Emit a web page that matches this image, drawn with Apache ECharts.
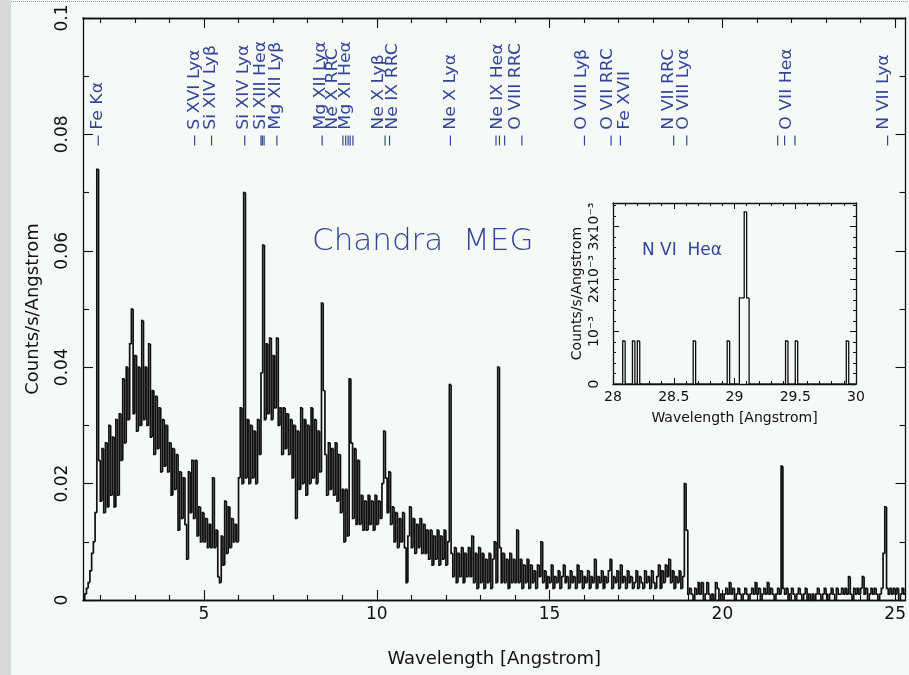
<!DOCTYPE html>
<html>
<head>
<meta charset="utf-8">
<script src="https://cdn.jsdelivr.net/npm/echarts@6/dist/echarts.min.js"></script>
<style>
  html, body { margin: 0; padding: 0; background: #f5faf6; }
  #chart { width: 909px; height: 675px; }
</style>
</head>
<body>
<div id="chart"></div>
<script>
// MEG first-order spectrum, count rate per 0.05 Å bin starting at 1.5 Å
const binStart = 1.5;
const binWidth = 0.05;
const countRate = [
  0, .001, .002, .003, .005, .008, .010, .015, .074, .024, .017, .026, .015, .027, .016, .030, .018, .028, .016, .031,
  .018, .032, .024, .038, .027, .040, .031, .044, .050, .032, .042, .029, .040, .030, .048, .031, .040, .030, .044, .028,
  .036, .025, .035, .026, .033, .022, .031, .023, .030, .022, .027, .018, .026, .019, .025, .012, .022, .014, .021, .013,
  .007, .022, .015, .024, .014, .024, .011, .016, .010, .015, .010, .014, .009, .013, .009, .021, .009, .012, .004, .003,
  .011, .006, .017, .008, .016, .009, .014, .010, .013, .010, .021, .033, .020, .070, .021, .031, .020, .030, .021, .029,
  .020, .031, .025, .039, .061, .031, .044, .032, .045, .031, .042, .033, .045, .030, .033, .025, .033, .026, .032, .025,
  .031, .021, .030, .014, .029, .019, .033, .020, .031, .018, .030, .020, .033, .021, .031, .020, .029, .022, .051, .036,
  .025, .018, .027, .019, .026, .018, .027, .017, .025, .015, .019, .010, .019, .011, .038, .027, .014, .026, .013, .024,
  .013, .018, .012, .017, .012, .018, .013, .017, .012, .018, .013, .017, .014, .020, .029, .021, .015, .022, .013, .016,
  .010, .015, .009, .014, .010, .015, .009, .003, .011, .016, .009, .014, .008, .013, .009, .014, .008, .013, .008, .012,
  .007, .012, .006, .011, .007, .012, .006, .011, .007, .012, .006, .010, .037, .008, .004, .009, .003, .008, .004, .009,
  .003, .008, .004, .009, .004, .011, .003, .008, .002, .009, .003, .008, .002, .007, .003, .008, .002, .007, .010, .003,
  .040, .009, .003, .008, .003, .007, .002, .008, .003, .007, .003, .012, .003, .007, .002, .006, .003, .007, .002, .006,
  .003, .005, .002, .006, .004, .010, .003, .005, .002, .004, .003, .006, .002, .004, .003, .005, .002, .004, .006, .003,
  .004, .002, .005, .003, .004, .002, .006, .003, .005, .002, .004, .003, .005, .002, .004, .003, .007, .002, .004, .003,
  .005, .002, .004, .003, .005, .007, .002, .004, .003, .005, .002, .006, .003, .004, .002, .005, .003, .004, .002, .003,
  .005, .002, .004, .003, .002, .005, .003, .004, .002, .005, .003, .002, .004, .006, .002, .005, .003, .006, .004, .007,
  .003, .005, .002, .004, .003, .005, .002, .004, .020, .012, .001, .002, .001, 0, .002, .001, .003, .001, .003, 0,
  .001, .003, .001, 0, .001, 0, .003, .002, 0, .001, 0, .001, .002, .001, .003, .001, .002, 0, .001, .002,
  .001, 0, .001, .002, .001, 0, .001, .002, .001, .003, .001, .002, 0, .001, .002, .001, .003, .001, .002, .001,
  0, .001, .002, .001, .023, .002, .001, .002, 0, .001, .002, .001, 0, .001, .002, .001, 0, .001, .002, 0,
  .001, 0, .001, 0, .001, .002, .001, 0, .001, .002, .001, 0, .001, .002, .001, 0, .002, .001, .001, .002,
  .001, .002, .001, .004, .001, 0, .002, .001, .002, .001, .002, .004, .001, .002, 0, .001, .002, .001, .002, .001,
  0, .001, .002, .008, .016, .002, .001, .002, .001, .002, .001, .002, 0, .001, .002, .001
];

// Axis ranges and tick values
const waveRange = [1.5, 25.3];
const rateRange = [0, 0.1];
const waveMajor = [5, 10, 15, 20, 25];
const waveMinor = [2, 3, 4, 6, 7, 8, 9, 11, 12, 13, 14, 16, 17, 18, 19, 21, 22, 23, 24];

// Line identifications: label text and its wavelength position
const lineLabels = [
  { name: 'Fe Kα', at: 1.95 },
  { name: 'S XVI Lyα', at: 4.73 },
  { name: 'Si XIV Lyβ', at: 5.22 },
  { name: 'Si XIV Lyα', at: 6.17 },
  { name: 'Si XIII Heα', at: 6.66 },
  { name: 'Mg XII Lyβ', at: 7.09 },
  { name: 'Mg XII Lyα', at: 8.40 },
  { name: 'Ne X RRC', at: 8.74 },
  { name: 'Mg XI Heα', at: 9.12 },
  { name: 'Ne X Lyβ', at: 10.07 },
  { name: 'Ne IX RRC', at: 10.48 },
  { name: 'Ne X Lyα', at: 12.15 },
  { name: 'Ne IX Heα', at: 13.51 },
  { name: 'O VIII RRC', at: 14.03 },
  { name: 'O VIII Lyβ', at: 15.94 },
  { name: 'O VII RRC', at: 16.69 },
  { name: 'Fe XVII', at: 17.18 },
  { name: 'N VII RRC', at: 18.45 },
  { name: 'O VIII Lyα', at: 18.89 },
  { name: 'O VII Heα', at: 21.86 },
  { name: 'N VII Lyα', at: 24.67 }
];
// Rest wavelengths marked under the labels
const lineWaves = [1.94, 4.73, 5.22, 6.18, 6.65, 6.69, 6.74, 7.11, 8.42, 9.02, 9.10, 9.17, 9.23, 9.31,
  10.24, 10.37, 12.13, 13.45, 13.55, 13.70, 14.20, 16.01, 16.78, 17.05, 18.59, 18.97, 21.60, 21.80, 22.10, 24.78];

// Inset: N VI He-alpha region, 0.02 Å bins from 28 Å
const insetStart = 28;
const insetWidth = 0.02;
const insetRate = [
  0, 0, 0, 0, .00082, 0, 0, 0, .00082, 0, .00082, 0, 0, 0, 0, 0, 0, 0, 0, 0,
  0, 0, 0, 0, 0, 0, 0, 0, 0, 0, 0, 0, 0, .00082, 0, 0, 0, 0, 0, 0,
  0, 0, 0, 0, 0, 0, 0, .00082, 0, 0, 0, 0, .00164, .00164, .00328, .00164, 0, 0, 0, 0,
  0, 0, 0, 0, 0, 0, 0, 0, 0, 0, 0, .00082, 0, 0, 0, .00082, 0, 0, 0, 0,
  0, 0, 0, 0, 0, 0, 0, 0, 0, 0, 0, 0, 0, 0, 0, 0, .00082, 0, 0, 0
];
const insetWaveRange = [28, 30];
const insetRateRange = [0, 0.00345];
const insetRateLabels = ['0', '10⁻³', '2x10⁻³', '3x10⁻³'];

const FONT = '"DejaVu Sans", sans-serif';
const INK = '#111';
const BLUE = '#34449a';

// Each bin is drawn as one step: rise/fall at its left edge, then across its width
function stepSeries(name, xi, yi, start, width, values, lineWidth) {
  return {
    name: name, type: 'custom', xAxisIndex: xi, yAxisIndex: yi,
    data: values.map((v, i) => [start + i * width, v, i > 0 ? values[i - 1] : 0, start + (i + 1) * width]),
    renderItem: (params, api) => {
      const p0 = api.coord([api.value(0), api.value(2)]);
      const p1 = api.coord([api.value(0), api.value(1)]);
      const p2 = api.coord([api.value(3), api.value(1)]);
      return {
        type: 'polyline',
        shape: { points: [p0, p1, p2] },
        style: { stroke: INK, lineWidth: lineWidth, fill: null, lineJoin: 'miter' }
      };
    },
    z: 3
  };
}

const frameLine = { show: true, onZero: false, lineStyle: { color: INK, width: 1.3 } };

function waveAxis(position, ticks, len, withLabels) {
  return {
    type: 'value', gridIndex: 0, position: position,
    min: waveRange[0], max: waveRange[1],
    axisLine: frameLine,
    axisTick: { show: true, inside: true, length: len, customValues: ticks, lineStyle: { color: INK, width: 1.1 } },
    axisLabel: withLabels
      ? { show: true, customValues: waveMajor, color: INK, fontFamily: FONT, fontSize: 17, margin: 6 }
      : { show: false },
    splitLine: { show: false }
  };
}

function rateAxis(position, withLabels) {
  return {
    type: 'value', gridIndex: 0, position: position,
    min: rateRange[0], max: rateRange[1], interval: 0.02,
    axisLine: frameLine,
    axisTick: { show: true, inside: true, length: 10, lineStyle: { color: INK, width: 1.1 } },
    minorTick: { show: true, splitNumber: 2, length: 6, lineStyle: { color: INK, width: 1.1 } },
    axisLabel: withLabels
      ? { show: true, rotate: 90, color: INK, fontFamily: FONT, fontSize: 17, margin: 12 }
      : { show: false },
    splitLine: { show: false },
    name: withLabels ? 'Counts/s/Angstrom' : '',
    nameLocation: 'middle', nameGap: 41, nameRotate: 90,
    nameTextStyle: { color: INK, fontFamily: FONT, fontSize: 18 }
  };
}

function insetWaveAxis(position, withLabels) {
  return {
    type: 'value', gridIndex: 1, position: position,
    min: insetWaveRange[0], max: insetWaveRange[1], interval: 0.5,
    axisLine: frameLine,
    axisTick: { show: true, inside: true, length: 6, lineStyle: { color: INK, width: 1 } },
    minorTick: { show: true, splitNumber: 5, length: 3, lineStyle: { color: INK, width: 1 } },
    axisLabel: withLabels
      ? { show: true, color: INK, fontFamily: FONT, fontSize: 14, margin: 6 }
      : { show: false },
    splitLine: { show: false },
    name: withLabels ? 'Wavelength [Angstrom]' : '',
    nameLocation: 'middle', nameGap: 27,
    nameTextStyle: { color: INK, fontFamily: FONT, fontSize: 14 }
  };
}

function insetRateAxis(position, withLabels) {
  return {
    type: 'value', gridIndex: 1, position: position,
    min: insetRateRange[0], max: insetRateRange[1], interval: 0.001,
    axisLine: frameLine,
    axisTick: { show: true, inside: true, length: 6, lineStyle: { color: INK, width: 1 } },
    minorTick: { show: true, splitNumber: 5, length: 3, lineStyle: { color: INK, width: 1 } },
    axisLabel: withLabels
      ? {
          show: true, rotate: 90, color: INK, fontFamily: FONT, fontSize: 14, margin: 12,
          showMaxLabel: false,
          formatter: v => insetRateLabels[Math.round(v * 1000)] || ''
        }
      : { show: false },
    splitLine: { show: false },
    name: withLabels ? 'Counts/s/Angstrom' : '',
    nameLocation: 'middle', nameGap: 29, nameRotate: 90,
    nameTextStyle: { color: INK, fontFamily: FONT, fontSize: 14 }
  };
}

const mainX = waveAxis('bottom', waveMajor, 10, true);
mainX.name = 'Wavelength [Angstrom]';
mainX.nameLocation = 'middle';
mainX.nameGap = 50;
mainX.nameTextStyle = { color: INK, fontFamily: FONT, fontSize: 18 };

const labelBase = 0.0808;
const markTop = 0.0798;
const markBottom = 0.0781;

const chart = echarts.init(document.getElementById('chart'), null, { renderer: 'canvas' });
chart.setOption({
  animation: false,
  backgroundColor: '#f5faf6',
  grid: [
    { left: 83, top: 18, width: 823, height: 582 },
    { left: 613, top: 203, width: 243, height: 181 }
  ],
  xAxis: [
    mainX,
    waveAxis('bottom', waveMinor, 5, false),
    waveAxis('top', waveMajor, 10, false),
    waveAxis('top', waveMinor, 5, false),
    insetWaveAxis('bottom', true),
    insetWaveAxis('top', false)
  ],
  yAxis: [
    rateAxis('left', true),
    rateAxis('right', false),
    insetRateAxis('left', true),
    insetRateAxis('right', false)
  ],
  series: [
    stepSeries('MEG', 0, 0, binStart, binWidth, countRate, 1.7),
    {
      name: 'line labels', type: 'custom', xAxisIndex: 0, yAxisIndex: 0,
      data: lineLabels.map(d => [d.at, labelBase]),
      renderItem: (params, api) => {
        const p = api.coord([api.value(0), api.value(1)]);
        return {
          type: 'text', x: p[0], y: p[1], rotation: Math.PI / 2, scaleX: 1.15,
          style: {
            text: lineLabels[params.dataIndex].name,
            fill: BLUE, font: '15px ' + FONT,
            align: 'left', verticalAlign: 'middle'
          }
        };
      }
    },
    {
      name: 'line marks', type: 'custom', xAxisIndex: 0, yAxisIndex: 0,
      data: lineWaves.map(w => [w, markTop]),
      renderItem: (params, api) => {
        const a = api.coord([api.value(0), markTop]);
        const b = api.coord([api.value(0), markBottom]);
        return {
          type: 'line',
          shape: { x1: a[0], y1: a[1], x2: b[0], y2: b[1] },
          style: { stroke: BLUE, lineWidth: 1.2 }
        };
      }
    },
    stepSeries('N VI', 4, 2, insetStart, insetWidth, insetRate, 1.3)
  ],
  graphic: [
    { type: 'rect', left: 0, top: 0, shape: { width: 11, height: 675 }, style: { fill: '#d9d9d9' }, z: 10 },
    { type: 'line', shape: { x1: 11, y1: 1.5, x2: 909, y2: 1.5 }, style: { stroke: '#9a9a9a', lineWidth: 1, lineDash: [1, 1] }, z: 10 },
    { type: 'text', left: 312, top: 226, style: { text: 'Chandra  MEG', fill: BLUE, font: '200 31px ' + FONT }, z: 10 },
    { type: 'text', left: 642, top: 242, style: { text: 'N VI  Heα', fill: BLUE, font: '17px ' + FONT }, z: 10 }
  ]
});
</script>
</body>
</html>
